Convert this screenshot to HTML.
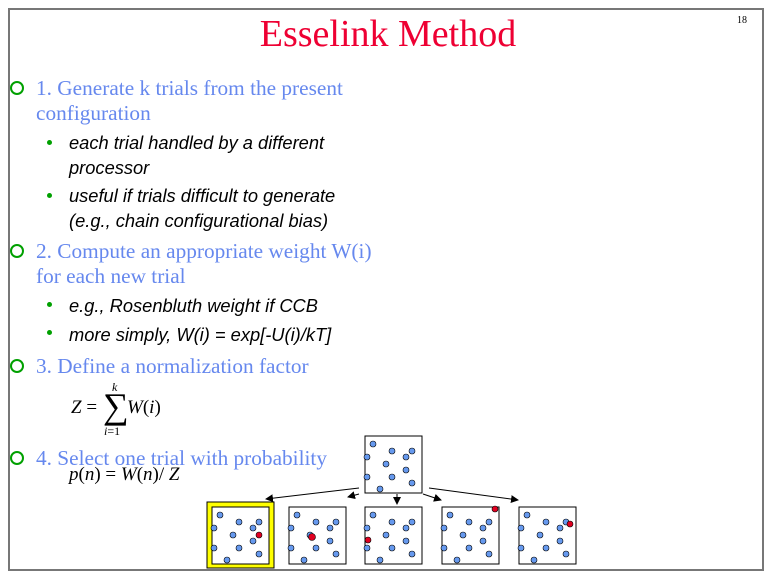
<!DOCTYPE html>
<html><head><meta charset="utf-8"><style>
body{margin:0;width:768px;height:576px;background:#fff;position:relative;overflow:hidden}
.a{position:absolute;white-space:nowrap}
.l1{font-family:"Liberation Serif",serif;font-size:21.3px;color:#6688ee;line-height:24px}
.l2{font-family:"Liberation Sans",sans-serif;font-style:italic;font-size:18.3px;color:#000;line-height:22px}
.ring{position:absolute;width:10px;height:10px;border:2px solid #00a000;border-radius:50%}
.dot{position:absolute;width:5px;height:5px;background:#00a000;border-radius:50%}
.m{font-family:"Liberation Serif",serif;font-style:italic;font-size:19px;color:#000}
</style></head><body>
<div class="a" style="left:8px;top:8px;width:752px;height:559px;border:2px solid #777"></div>
<div class="a" style="left:0;top:12px;width:776px;text-align:center;font-family:'Liberation Serif',serif;font-size:38px;color:#ee0033;line-height:44px">Esselink Method</div>
<div class="a" style="left:737px;top:15px;font-family:'Liberation Serif',serif;font-size:10px">18</div>

<div class="ring" style="left:10px;top:81px"></div>
<div class="a l1" style="left:36px;top:76px">1. Generate k trials from the present</div>
<div class="a l1" style="left:36px;top:101px">configuration</div>
<div class="dot" style="left:47px;top:140px"></div>
<div class="a l2" style="left:69px;top:132px">each trial handled by a different</div>
<div class="a l2" style="left:69px;top:157px">processor</div>
<div class="dot" style="left:47px;top:193px"></div>
<div class="a l2" style="left:69px;top:185px">useful if trials difficult to generate</div>
<div class="a l2" style="left:69px;top:210px">(e.g., chain configurational bias)</div>

<div class="ring" style="left:10px;top:244px"></div>
<div class="a l1" style="left:36px;top:239px">2. Compute an appropriate weight W(i)</div>
<div class="a l1" style="left:36px;top:264px">for each new trial</div>
<div class="dot" style="left:47px;top:302px"></div>
<div class="a l2" style="left:69px;top:295px">e.g., Rosenbluth weight if CCB</div>
<div class="dot" style="left:47px;top:330px"></div>
<div class="a l2" style="left:69px;top:324px">more simply, W(i) = exp[-U(i)/kT]</div>

<div class="ring" style="left:10px;top:359px"></div>
<div class="a l1" style="left:36px;top:354px">3. Define a normalization factor</div>
<div class="a m" style="left:71px;top:397px">Z <span style="font-style:normal">=</span></div>
<div class="a" style="left:103px;top:387px;font-family:'Liberation Serif',serif;font-size:36px;line-height:38px">&sum;</div>
<div class="a m" style="left:112px;top:380px;font-size:12px">k</div>
<div class="a m" style="left:104px;top:424px;font-size:12px">i<span style="font-style:normal">=1</span></div>
<div class="a m" style="left:127px;top:397px">W<span style="font-style:normal">(</span>i<span style="font-style:normal">)</span></div>

<div class="ring" style="left:10px;top:451px"></div>
<div class="a l1" style="left:36px;top:446px">4. Select one trial with probability</div>
<div class="a m" style="left:69px;top:464px">p<span style="font-style:normal">(</span>n<span style="font-style:normal">) = </span>W<span style="font-style:normal">(</span>n<span style="font-style:normal">)/ </span>Z</div>

<svg class="a" style="left:0;top:0" width="768" height="576">
<defs>
<marker id="ar" markerWidth="8" markerHeight="8" refX="7" refY="4" orient="auto" markerUnits="userSpaceOnUse"><path d="M0,0 L8,4 L0,8z" fill="#000"/></marker>
<g id="b">
<rect x="0" y="0" width="57" height="57" fill="#fff" stroke="#000" stroke-width="1"/>
<g fill="#6699ee" stroke="#000" stroke-width="0.6">
<circle cx="8" cy="8" r="3"/><circle cx="27" cy="15" r="3"/><circle cx="47" cy="15" r="3"/><circle cx="2" cy="21" r="3"/><circle cx="41" cy="21" r="3"/><circle cx="21" cy="28" r="3"/><circle cx="41" cy="34" r="3"/><circle cx="2" cy="41" r="3"/><circle cx="27" cy="41" r="3"/><circle cx="47" cy="47" r="3"/><circle cx="15" cy="53" r="3"/>
</g></g>
</defs>
<rect x="207" y="502" width="67" height="66" fill="#ffff00" stroke="#000" stroke-width="1"/>
<g transform="translate(365,436)"><use href="#b"/></g>
<g transform="translate(212,507)"><use href="#b"/><circle cx="47" cy="28" r="3" fill="#e00020" stroke="#000" stroke-width="0.6"/></g>
<g transform="translate(289,507)"><use href="#b"/><circle cx="23" cy="30" r="3.5" fill="#e00020" stroke="#000" stroke-width="0.6"/></g>
<g transform="translate(365,507)"><use href="#b"/><circle cx="3" cy="33" r="3" fill="#e00020" stroke="#000" stroke-width="0.6"/></g>
<g transform="translate(442,507)"><use href="#b"/><circle cx="53" cy="2" r="3" fill="#e00020" stroke="#000" stroke-width="0.6"/></g>
<g transform="translate(519,507)"><use href="#b"/><circle cx="51" cy="17" r="3" fill="#e00020" stroke="#000" stroke-width="0.6"/></g>
<g stroke="#000" stroke-width="1" fill="none">
<line x1="359" y1="488" x2="266" y2="499" marker-end="url(#ar)"/>
<line x1="359" y1="494" x2="348" y2="497" marker-end="url(#ar)"/>
<line x1="397" y1="494" x2="397" y2="504" marker-end="url(#ar)"/>
<line x1="423" y1="494" x2="441" y2="500" marker-end="url(#ar)"/>
<line x1="429" y1="488" x2="518" y2="500" marker-end="url(#ar)"/>
</g>
</svg>
</body></html>
